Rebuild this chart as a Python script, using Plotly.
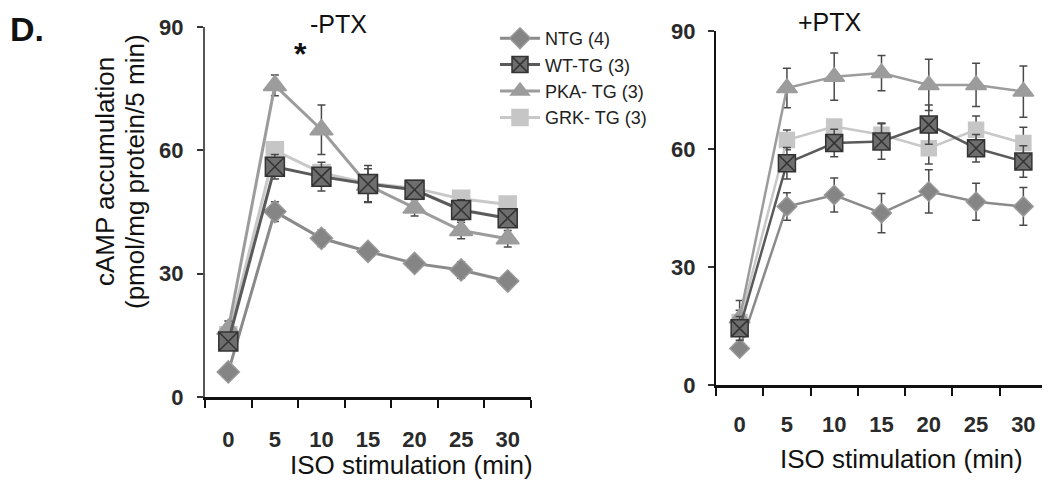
import plotly.graph_objects as go

times = ["0", "5", "10", "15", "20", "25", "30"]
groups = ["NTG (4)", "WT-TG (3)", "PKA- TG (3)", "GRK- TG (3)"]

# -PTX panel
ntg_minus = [6.1, 45.1, 38.6, 35.4, 32.5, 30.9, 28.2]
ntg_minus_err = [1.0, 2.4, 2.0, 1.0, 1.0, 2.0, 1.0]
wt_minus = [13.5, 56.0, 53.6, 51.8, 50.4, 45.5, 43.5]
wt_minus_err = [2.0, 3.0, 3.5, 4.5, 2.0, 2.5, 2.0]
pka_minus = [16.5, 75.8, 65.0, 51.5, 46.0, 40.5, 38.5]
pka_minus_err = [2.0, 2.5, 6.0, 4.0, 2.0, 2.0, 2.0]
grk_minus = [15.0, 60.0, 54.5, 52.0, 50.8, 48.2, 46.8]
grk_minus_err = [2.0, 2.0, 2.0, 2.0, 1.5, 1.5, 1.5]

# +PTX panel
ntg_plus = [9.3, 45.4, 48.3, 43.7, 49.2, 46.6, 45.4]
ntg_plus_err = [1.0, 3.5, 4.3, 5.0, 5.5, 4.7, 4.8]
wt_plus = [14.4, 56.4, 61.5, 61.9, 66.2, 60.2, 56.8]
wt_plus_err = [3.0, 4.0, 3.5, 4.5, 5.0, 3.5, 4.0]
pka_plus = [17.0, 75.5, 78.4, 79.3, 76.3, 76.3, 74.6]
pka_plus_err = [4.5, 5.0, 6.0, 4.5, 6.5, 5.5, 6.5]
grk_plus = [16.0, 62.3, 65.7, 63.6, 60.2, 64.9, 61.5]
grk_plus_err = [3.0, 2.5, 1.5, 3.0, 4.0, 3.5, 4.0]

W, H, OFF = 1050, 480, 8  # page body margin shifts the plot by 8px


def px(x):
    return (x - OFF) / W


def py(y):
    return 1 - (y - OFF) / H


styles = {
    "NTG (4)": dict(symbol="diamond", size=(17, 15), fill="#858585", mline="#999999", line="#8a8a8a"),
    "WT-TG (3)": dict(symbol="square-x", size=(19, 17), fill="#6e6e6e", mline="#333333", line="#5a5a5a"),
    "PKA- TG (3)": dict(symbol="triangle-up", size=(20, 18), fill="#9c9c9c", mline="#9c9c9c", line="#9c9c9c"),
    "GRK- TG (3)": dict(symbol="square", size=(17, 15), fill="#c6c6c6", mline="#c6c6c6", line="#c8c8c8"),
}
rank = {"NTG (4)": 1, "WT-TG (3)": 2, "PKA- TG (3)": 3, "GRK- TG (3)": 4}

panels = [
    (0, "x", "y", {"GRK- TG (3)": (grk_minus, grk_minus_err), "PKA- TG (3)": (pka_minus, pka_minus_err),
                   "NTG (4)": (ntg_minus, ntg_minus_err), "WT-TG (3)": (wt_minus, wt_minus_err)}),
    (1, "x2", "y2", {"GRK- TG (3)": (grk_plus, grk_plus_err), "PKA- TG (3)": (pka_plus, pka_plus_err),
                     "NTG (4)": (ntg_plus, ntg_plus_err), "WT-TG (3)": (wt_plus, wt_plus_err)}),
]

fig = go.Figure()
for i, xa, ya, series in panels:
    for name, (vals, errs) in series.items():
        s = styles[name]
        fig.add_trace(go.Scatter(
            x=times, y=vals, name=name, xaxis=xa, yaxis=ya,
            mode="lines+markers", showlegend=(i == 0), legendrank=rank[name],
            line=dict(color=s["line"], width=3 if i == 0 else 2.5),
            marker=dict(symbol=s["symbol"], size=s["size"][i], color=s["fill"],
                        line=dict(color=s["mline"], width=1.5)),
            error_y=dict(type="data", array=errs, color="#4a4a4a", thickness=1.5, width=4),
        ))

xfont = dict(family="Liberation Sans", size=22, color="#2a2a2a", weight="bold")
yfont = dict(family="Liberation Sans", size=22, color="#2a2a2a", weight="bold")
xcommon = dict(type="category", range=[-0.5, 6.5], tickson="boundaries", ticks="outside",
               ticklen=8, tickwidth=2, tickcolor="#111", showline=True, linecolor="#111",
               linewidth=3, showgrid=False, zeroline=False, tickfont=xfont, automargin=False)
ycommon = dict(range=[0, 90], tickvals=[0, 30, 60, 90], ticks="outside", ticklen=6,
               tickwidth=2, tickcolor="#333", showline=True, linecolor="#555", linewidth=2,
               showgrid=False, zeroline=False, tickfont=yfont, automargin=False)


def label(text, x, y, size=26, xanchor="center", yanchor="middle", **kw):
    return dict(text=text, x=px(x), y=py(y), xref="paper", yref="paper",
                xanchor=xanchor, yanchor=yanchor, showarrow=False,
                font=dict(family="Liberation Sans", size=size, color="#111"), **kw)


fig.update_layout(
    width=W, height=H, margin=dict(l=0, r=0, t=0, b=0),
    paper_bgcolor="white", plot_bgcolor="white",
    font=dict(family="Liberation Sans", color="#111"),
    xaxis=dict(xcommon, domain=[px(205), px(531)], anchor="y", ticklabelstandoff=21),
    yaxis=dict(ycommon, domain=[py(397), py(27)], anchor="x", ticklabelstandoff=9),
    xaxis2=dict(xcommon, domain=[px(716), px(1047)], anchor="y2", linewidth=2.5,
                ticklabelstandoff=18),
    yaxis2=dict(ycommon, domain=[py(385), py(31)], anchor="x2", linecolor="#111",
                ticklabelstandoff=8),
    legend=dict(x=px(495), y=py(20), xanchor="left", yanchor="top",
                font=dict(size=18, color="#222"), bgcolor="rgba(0,0,0,0)",
                itemwidth=40),
    annotations=[
        label("<b>D.</b>", 8, 8, size=34, xanchor="left", yanchor="top"),
        label("-PTX", 338, 24, size=25),
        label("+PTX", 830, 22, size=25),
        label("<b>*</b>", 300, 54, size=32),
        label("cAMP accumulation", 105, 172, textangle=-90),
        label("(pmol/mg protein/5 min)", 135, 172, textangle=-90),
        label("ISO stimulation (min)", 411, 465),
        label("ISO stimulation (min)", 901, 459),
    ],
)

fig.write_html("out.html")
